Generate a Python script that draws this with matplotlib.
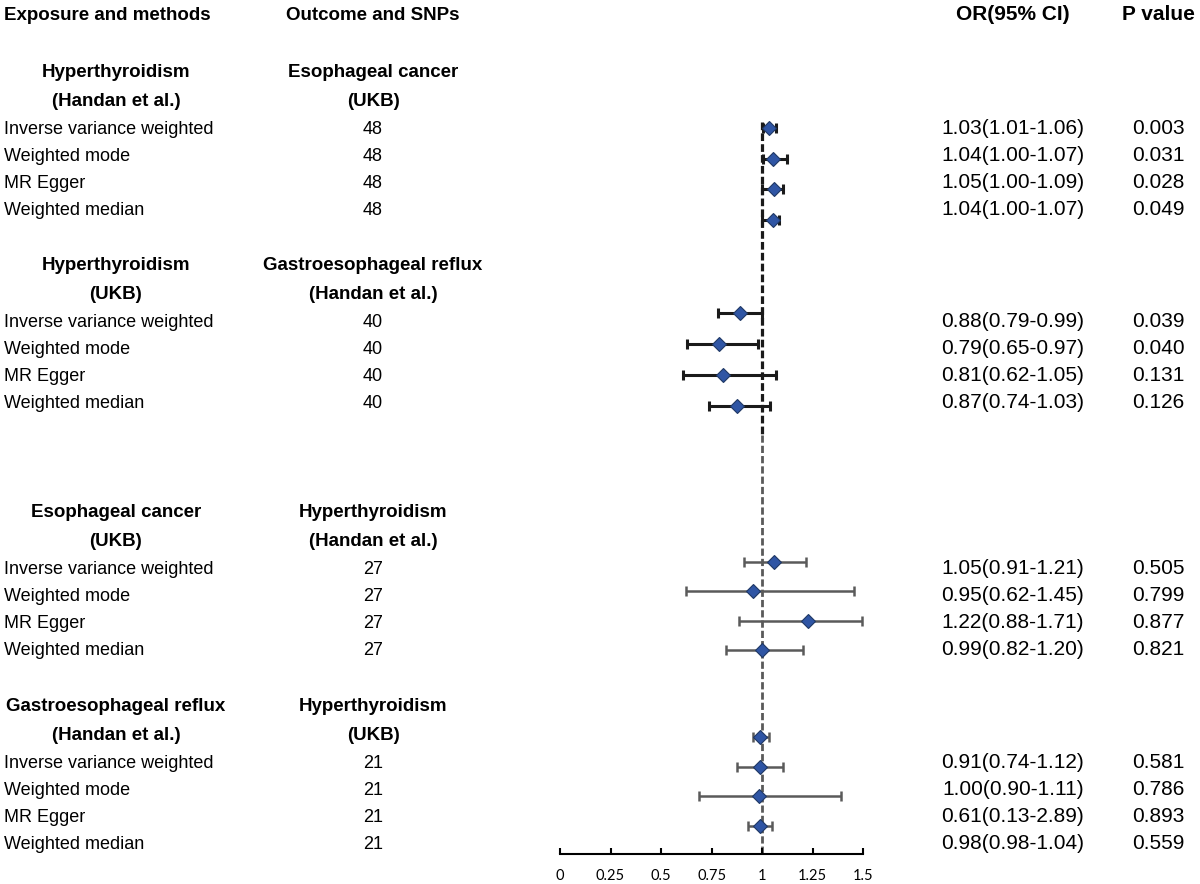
#!/usr/bin/env python
"""
Forest plot: MR results between hyperthyroidism, esophageal cancer and GERD
"""

import matplotlib
matplotlib.use('Agg')

import numpy as np
import matplotlib.pyplot as plt

######################################################################
## DATA

methods = ['Inverse variance weighted', 'Weighted mode', 'MR Egger', 'Weighted median']

exposure_names = ['Hyperthyroidism', 'Hyperthyroidism', 'Esophageal cancer', 'Gastroesophageal reflux']
exposure_src = ['(Handan et al.)', '(UKB)', '(UKB)', '(Handan et al.)']
outcome_names = ['Esophageal cancer', 'Gastroesophageal reflux', 'Hyperthyroidism', 'Hyperthyroidism']
outcome_src = ['(UKB)', '(Handan et al.)', '(Handan et al.)', '(UKB)']
snps = [48, 40, 27, 21]

or_text = [
    ['1.03(1.01-1.06)', '1.04(1.00-1.07)', '1.05(1.00-1.09)', '1.04(1.00-1.07)'],
    ['0.88(0.79-0.99)', '0.79(0.65-0.97)', '0.81(0.62-1.05)', '0.87(0.74-1.03)'],
    ['1.05(0.91-1.21)', '0.95(0.62-1.45)', '1.22(0.88-1.71)', '0.99(0.82-1.20)'],
    ['0.91(0.74-1.12)', '1.00(0.90-1.11)', '0.61(0.13-2.89)', '0.98(0.98-1.04)'],
]
p_text = [
    ['0.003', '0.031', '0.028', '0.049'],
    ['0.039', '0.040', '0.131', '0.126'],
    ['0.505', '0.799', '0.877', '0.821'],
    ['0.581', '0.786', '0.893', '0.559'],
]

# plotted estimates and intervals (as drawn in the figure)
or_est = [
    [1.035, 1.052, 1.058, 1.052],
    [0.890, 0.788, 0.808, 0.877],
    [1.058, 0.956, 1.225, 0.997],
    [0.989, 0.989, 0.984, 0.989],
]
ci_low = [
    [1.005, 1.003, 1.000, 1.000],
    [0.783, 0.626, 0.607, 0.735],
    [0.910, 0.622, 0.885, 0.819],
    [0.953, 0.874, 0.687, 0.931],
]
ci_high = [
    [1.068, 1.121, 1.101, 1.081],
    [1.000, 0.978, 1.068, 1.039],
    [1.215, 1.456, 1.495, 1.200],
    [1.034, 1.105, 1.390, 1.047],
]

x_ticks = [0, 0.25, 0.5, 0.75, 1, 1.25, 1.5]
x_ticklabels = ['0', '0.25', '0.5', '0.75', '1', '1.25', '1.5']

######################################################################
## LAYOUT (pixel units, y downwards)

W, H = 1200, 884
text_start = [127, 320, 567, 761]     # first method row of each block
text_step = 27
mark_start = [128, 313, 562, 737]     # first marker row of each block
mark_step = [30.6, 30.9, 29.5, 29.6]
bar_color = ['#1a1a1a', '#1a1a1a', '#5a5a5a', '#5a5a5a']
bar_lw = [2.2, 2.2, 1.8, 1.8]

col_method = 4
col_exp = 116
col_out = 373
col_or = 1013
col_p = 1158
half_cap = 7   # baseline offset from centre of capitals

plt.rcParams['font.family'] = ['Liberation Sans', 'DejaVu Sans']

fig = plt.figure(figsize=(W / 100, H / 100), dpi=100)

# text layer
tax = fig.add_axes([0, 0, 1, 1])
tax.set_xlim(0, W)
tax.set_ylim(H, 0)
tax.axis('off')

def put(x, y, s, ha='left', bold=False, fs=13.5):
    tax.text(x, y + half_cap, s, ha=ha, va='baseline', fontsize=fs,
             fontweight='bold' if bold else 'normal', color='black')

put(col_method, 13, 'Exposure and methods', bold=True)
put(286, 13, 'Outcome and SNPs', bold=True)
put(col_or, 13, 'OR(95% CI)', ha='center', bold=True, fs=15)
put(col_p, 13, 'P value', ha='center', bold=True, fs=15)

for g in range(4):
    y0 = text_start[g]
    put(col_exp, y0 - 57, exposure_names[g], ha='center', bold=True)
    put(col_exp, y0 - 28, exposure_src[g], ha='center', bold=True)
    put(col_out, y0 - 57, outcome_names[g], ha='center', bold=True)
    put(col_out, y0 - 28, outcome_src[g], ha='center', bold=True)
    for i, m in enumerate(methods):
        y = y0 + i * text_step
        put(col_method, y, m, fs=13)
        put(col_out, y, str(snps[g]), ha='center', fs=13)
        put(col_or, y, or_text[g][i], ha='center', fs=15)
        put(col_p, y, p_text[g][i], ha='center', fs=15)

# forest layer
x0_px, x1_px = 560, 863.3
axis_y = 854
top_y = 110
ax = fig.add_axes([x0_px / W, 1 - axis_y / H, (x1_px - x0_px) / W, (axis_y - top_y) / H])
ax.patch.set_alpha(0)
ax.set_xlim(0, 1.5)
ax.set_ylim(axis_y, top_y)

# reference line at OR = 1
ax.plot([1, 1], [122, 435], color='#1a1a1a', lw=2.3, ls=(0, (2.4, 1.0)), zorder=1)
ax.plot([1, 1], [435, axis_y], color='#5a5a5a', lw=2.0, ls=(0, (2.6, 1.1)), zorder=1)

for g in range(4):
    ys = mark_start[g] + np.arange(4) * mark_step[g]
    est = np.array(or_est[g])
    lo = est - np.array(ci_low[g])
    hi = np.array(ci_high[g]) - est
    ax.errorbar(est, ys, xerr=[lo, hi], fmt='none', ecolor=bar_color[g],
                elinewidth=bar_lw[g], capsize=3.5, capthick=bar_lw[g], zorder=2)
    ax.plot(est, ys, 'D', markersize=7, markerfacecolor='#2f55a4',
            markeredgecolor='#1f3864', markeredgewidth=0.8, ls='none', zorder=3)

for side in ['left', 'right', 'top']:
    ax.spines[side].set_visible(False)
ax.spines['bottom'].set_linewidth(1.5)
ax.spines['bottom'].set_color('black')
ax.set_yticks([])
ax.set_xticks(x_ticks)
ax.set_xticklabels(x_ticklabels, fontfamily='Lato', fontsize=10.5)
ax.tick_params(axis='x', direction='in', length=4, width=1.5, pad=11, colors='black')

plt.savefig('out.png', dpi=100)
